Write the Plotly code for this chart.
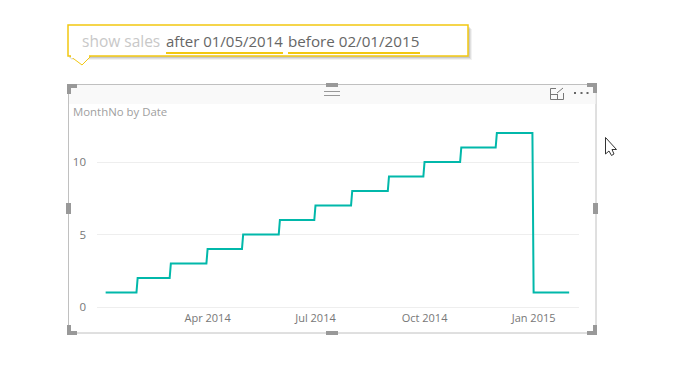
import plotly.graph_objects as go

dates = ["2014-01-05", "2014-01-31", "2014-02-01", "2014-02-28", "2014-03-01", "2014-03-31",
         "2014-04-01", "2014-04-30", "2014-05-01", "2014-05-31", "2014-06-01", "2014-06-30",
         "2014-07-01", "2014-07-31", "2014-08-01", "2014-08-31", "2014-09-01", "2014-09-30",
         "2014-10-01", "2014-10-31", "2014-11-01", "2014-11-30", "2014-12-01", "2014-12-31",
         "2015-01-01", "2015-01-31"]
month_no = [1, 1, 2, 2, 3, 3, 4, 4, 5, 5, 6, 6, 7, 7, 8, 8, 9, 9, 10, 10, 11, 11, 12, 12, 1, 1]
x_tick_vals = ["2014-04-01", "2014-07-01", "2014-10-01", "2015-01-01"]
x_tick_text = ["Apr 2014", "Jul 2014", "Oct 2014", "Jan 2015"]
y_tick_vals = [0, 5, 10]

W, H = 674, 365
L, R, T, B = 97, 579, 110, 307
FONT = "Open Sans"


def px(x):
    return (x - L) / (R - L)


def py(y):
    return (B - y) / (B - T)


def rect(x0, y0, x1, y1, fill="rgba(0,0,0,0)", line=None, width=0):
    return dict(type="rect", xref="paper", yref="paper", x0=px(x0), x1=px(x1), y0=py(y0), y1=py(y1),
                fillcolor=fill, line=dict(color=line or "rgba(0,0,0,0)", width=width), layer="below")


def poly(points, fill="rgba(0,0,0,0)", line=None, width=0):
    d = "M" + " L".join(f"{px(a):.5f},{py(b):.5f}" for a, b in points) + " Z"
    return dict(type="path", xref="paper", yref="paper", path=d, fillcolor=fill,
                line=dict(color=line or "rgba(0,0,0,0)", width=width), layer="below")


def seg(x0, y0, x1, y1, color, width=1):
    return dict(type="line", xref="paper", yref="paper", x0=px(x0), x1=px(x1), y0=py(y0), y1=py(y1),
                line=dict(color=color, width=width), layer="below")


def label(text, x, y, size, color, anchor="left"):
    return dict(text=text, x=px(x), y=py(y), xref="paper", yref="paper", showarrow=False,
                xanchor=anchor, yanchor="middle", xshift=0, font=dict(family=FONT, size=size, color=color))


shapes = []
# callout shadow
for off, alpha in ((4, 0.05), (3, 0.07), (2, 0.10)):
    shapes.append(rect(68 + off - 1, 25 + off, 468 + off, 56 + off, f"rgba(0,0,0,{alpha})"))
shapes.append(poly([(70, 56), (82, 65), (91, 56)], "#ffffff", "#F2C811", 1))
shapes.append(rect(68, 25, 468, 56, "#ffffff", "#F2C811", 1.5))
shapes.append(rect(71, 54, 89, 58, "#ffffff"))
shapes.append(seg(166, 53, 283, 53, "#F2C811", 2))
shapes.append(seg(288, 53, 420, 53, "#F2C811", 2))
# visual frame
shapes.append(rect(68.5, 84.5, 596, 333, "#ffffff", "#c0c0c0", 1))
shapes.append(rect(69, 85, 595.5, 104, "#f9f9f9"))
# grip
shapes.append(rect(326, 83, 338, 87, "#999999"))
shapes.append(seg(324, 91.5, 340, 91.5, "#999999"))
shapes.append(seg(324, 95.5, 340, 95.5, "#999999"))
# side handles
shapes.append(rect(66, 203, 71, 214, "#999999"))
shapes.append(rect(593, 203, 598, 214, "#999999"))
shapes.append(rect(326, 331, 338, 335, "#999999"))
# corners
shapes.append(poly([(67, 84), (77, 84), (77, 88), (71, 88), (71, 94), (67, 94)], "#999999"))
shapes.append(poly([(587, 83), (597, 83), (597, 93), (593, 93), (593, 87), (587, 87)], "#999999"))
shapes.append(poly([(67, 325), (71, 325), (71, 331), (77, 331), (77, 335), (67, 335)], "#999999"))
shapes.append(poly([(593, 325), (597, 325), (597, 335), (587, 335), (587, 331), (593, 331)], "#999999"))
# focus icon and dots
shapes.append(rect(550.5, 88.5, 563.5, 99.5, "rgba(0,0,0,0)", "#777777", 1))
shapes.append(seg(550, 94.5, 557, 94.5, "#777777"))
shapes.append(seg(557.5, 94, 557.5, 100, "#777777"))
shapes.append(rect(556, 87, 565, 93, "#f9f9f9"))
shapes.append(seg(557, 93, 563, 88, "#777777"))
for dot in (575, 581.5, 587.5):
    shapes.append(rect(dot - 1, 92, dot + 1, 94, "#666666"))
# mouse pointer
shapes.append(poly([(605.5, 137.5), (605.5, 154), (609, 151), (611.5, 155.5), (614, 154),
                    (612, 149.5), (616.5, 149.5)], "#ffffff", "#333333", 1))

annotations = [
    label("show sales", 80, 41, 15.5, "#c8c8c8"),
    label("after 01/05/2014", 164, 41, 15, "#666666"),
    label("before 02/01/2015", 286, 41, 15.2, "#666666"),
    label("MonthNo by Date", 71, 111.5, 11.4, "#a0a0a0"),
]

fig = go.Figure(go.Scatter(x=dates, y=month_no, mode="lines",
                           line=dict(color="#01B8AA", width=2), hoverinfo="skip"))
fig.update_layout(
    width=W, height=H, autosize=False,
    margin=dict(l=L, r=W - R, t=T, b=H - B, pad=0),
    paper_bgcolor="#ffffff", plot_bgcolor="rgba(0,0,0,0)",
    showlegend=False, shapes=shapes, annotations=annotations,
    font=dict(family=FONT, size=11, color="#777777"),
    xaxis=dict(type="date", range=["2013-12-28 17:00", "2015-02-08 07:00"], tickmode="array",
               tickvals=x_tick_vals, ticktext=x_tick_text, showgrid=False, zeroline=False,
               showline=False, ticks="", tickangle=0, ticklabelstandoff=3,
               tickfont=dict(family=FONT, size=11, color="#777777")),
    yaxis=dict(range=[0, 13.586], tickmode="array", tickvals=y_tick_vals, showgrid=True,
               gridcolor="#eeeeee", gridwidth=1, zeroline=True, zerolinecolor="#eeeeee", zerolinewidth=1,
               showline=False, ticks="", ticklabelstandoff=10,
               tickfont=dict(family=FONT, size=11.5, color="#777777")),
)
fig.write_html("out.html", config=dict(displayModeBar=False),
               post_script="document.body.style.margin='0';document.body.style.overflow='hidden';")
